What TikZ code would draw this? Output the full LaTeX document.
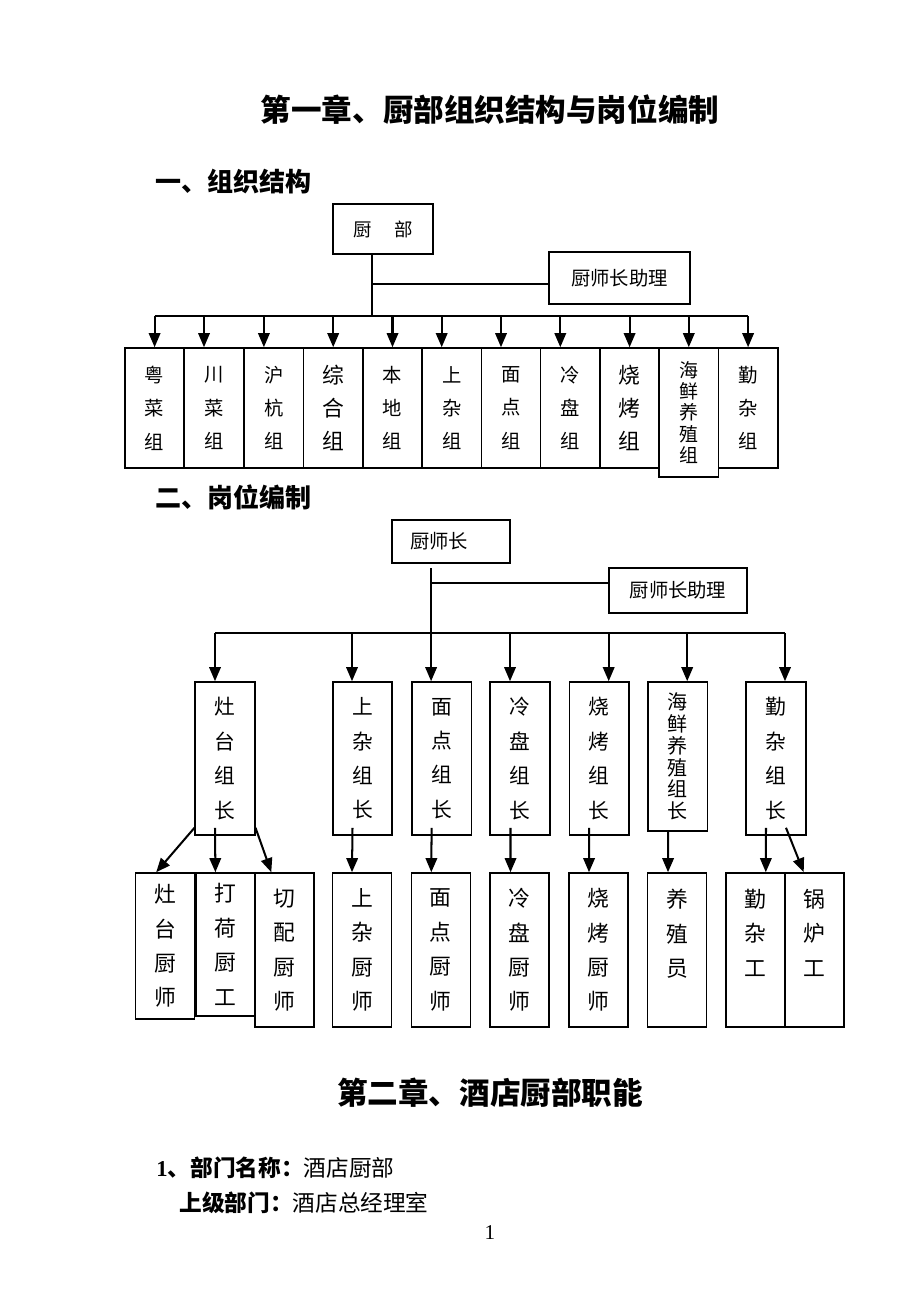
\documentclass[tikz,border=0pt]{standalone}
\usepackage{fontspec}
\usepackage{tikz}
\usetikzlibrary{arrows.meta}
\setmainfont{Noto Sans CJK SC}
\newfontfamily\latinfont{Liberation Serif}

\tikzset{
  box/.style={draw, line width=0.9pt, inner sep=0pt, align=center},
  grp/.style={box, minimum width=1.185cm, minimum height=2.4cm, font=\fontsize{11}{19}\selectfont},
  lead/.style={box, minimum width=1.19cm, minimum height=3.06cm, font=\fontsize{11.8}{19.6}\selectfont},
  crew/.style={box, minimum width=1.18cm, minimum height=3.08cm, font=\fontsize{12.4}{19.6}\selectfont},
  bar/.style={line width=1.15pt},
  link/.style={bar, -{Triangle[length=8pt,width=6.5pt]}},
}

\begin{document}
\begin{tikzpicture}[x=0.02cm,y=-0.02cm]
                \useasboundingbox (0,0) rectangle (920,1306);
                % headings
                \node[font=\fontsize{17.4}{20}\selectfont\bfseries] (title1) at (490,110) {第一章、厨部组织结构与岗位编制};
                \node[anchor=west, inner sep=0pt, font=\fontsize{14.8}{18}\selectfont\bfseries] (sec1) at (155,182) {一、组织结构};
                \node[anchor=west, inner sep=0pt, font=\fontsize{14.8}{18}\selectfont\bfseries] (sec2) at (155,497) {二、岗位编制};

                % organisation chart
                \node[box, minimum width=2cm, minimum height=1cm, font=\fontsize{10.5}{12}\selectfont] (dept) at (383,229) {厨\hspace{0.45cm}部};
                \node[box, minimum width=2.82cm, minimum height=1.04cm, font=\fontsize{11}{12}\selectfont] (assist1) at (619.5,278) {厨师长助理};
                \coordinate (trunk1) at (372,316);
                \coordinate (join1) at (372,284);
                \coordinate (bus1l) at (154.5,316);
                \coordinate (bus1r) at (747.5,316);
                \draw[bar] (dept.south -| trunk1) -- (trunk1);
                \draw[bar] (join1) -- (join1 -| assist1.west);
                \draw[bar] (bus1l) -- (bus1r);

                \node[grp] (g1) at (154.6,408) {粤\\菜\\组};
                \node[grp] (g2) at (214.0,408) {川\\菜\\组};
                \node[grp] (g3) at (273.9,408) {沪\\杭\\组};
                \node[grp, font=\fontsize{12.4}{19}\selectfont] (g4) at (333.2,408) {综\\合\\组};
                \node[grp] (g5) at (392.5,408) {本\\地\\组};
                \node[grp] (g6) at (451.7,408) {上\\杂\\组};
                \node[grp] (g7) at (511.0,408) {面\\点\\组};
                \node[grp] (g8) at (570.3,408) {冷\\盘\\组};
                \node[grp, font=\fontsize{12.4}{19}\selectfont] (g9) at (629.6,408) {烧\\烤\\组};
                \node[grp, minimum height=2.58cm, font=\fontsize{10.8}{12.2}\selectfont] (g10) at (688.8,412.5) {海\\鲜\\养\\殖\\组};
                \node[grp] (g11) at (748.1,408) {勤\\杂\\组};

                \draw[link] (g1.north |- bus1l) -- (g1.north);
                \draw[link] ([xshift=-0.2cm]g2.north |- bus1l) -- ([xshift=-0.2cm]g2.north);
                \draw[link] ([xshift=-0.2cm]g3.north |- bus1l) -- ([xshift=-0.2cm]g3.north);
                \draw[link] (g4.north |- bus1l) -- (g4.north);
                \draw[link] (g5.north |- bus1l) -- (g5.north);
                \draw[link] ([xshift=-0.2cm]g6.north |- bus1l) -- ([xshift=-0.2cm]g6.north);
                \draw[link] ([xshift=-0.2cm]g7.north |- bus1l) -- ([xshift=-0.2cm]g7.north);
                \draw[link] ([xshift=-0.2cm]g8.north |- bus1l) -- ([xshift=-0.2cm]g8.north);
                \draw[link] (g9.north |- bus1l) -- (g9.north);
                \draw[link] (g10.north |- bus1l) -- (g10.north);
                \draw[link] (g11.north |- bus1l) -- (g11.north);

                % staffing chart
                \node[box, minimum height=0.86cm, text width=1.64cm, inner xsep=0.36cm, align=left, font=\fontsize{11}{12}\selectfont] (chef) at (451,541.5) {厨师长};
                \node[box, minimum width=2.76cm, minimum height=0.9cm, font=\fontsize{11}{12}\selectfont] (assist2) at (678,590.5) {厨师长助理};
                \coordinate (top2) at (431,568);
                \coordinate (trunk2) at (431,633);
                \coordinate (join2) at (431,583);
                \coordinate (bus2l) at (214.8,633);
                \coordinate (bus2r) at (785,633);
                \draw[bar] (top2) -- (trunk2);
                \draw[bar] (join2) -- (join2 -| assist2.west);
                \draw[bar] (bus2l) -- (bus2r);

                \node[lead] (l1) at (225,758.5) {灶\\台\\组\\长};
                \node[lead] (l2) at (362.5,758.5) {上\\杂\\组\\长};
                \node[lead] (l3) at (441.6,758.5) {面\\点\\组\\长};
                \node[lead] (l4) at (520,758.5) {冷\\盘\\组\\长};
                \node[lead] (l5) at (599.2,758.5) {烧\\烤\\组\\长};
                \node[lead, minimum height=2.98cm, font=\fontsize{11.4}{12.4}\selectfont] (l6) at (677.7,756.5) {海\\鲜\\养\\殖\\组\\长};
                \node[lead] (l7) at (776,758.5) {勤\\杂\\组\\长};

                \draw[link] ([xshift=-0.2cm]l1.north |- bus2l) -- ([xshift=-0.2cm]l1.north);
                \draw[link] ([xshift=-0.21cm]l2.north |- bus2l) -- ([xshift=-0.21cm]l2.north);
                \draw[link] ([xshift=-0.21cm]l3.north |- bus2l) -- ([xshift=-0.21cm]l3.north);
                \draw[link] ([xshift=-0.2cm]l4.north |- bus2l) -- ([xshift=-0.2cm]l4.north);
                \draw[link] ([xshift=0.19cm]l5.north |- bus2l) -- ([xshift=0.19cm]l5.north);
                \draw[link] ([xshift=0.19cm]l6.north |- bus2l) -- ([xshift=0.19cm]l6.north);
                \draw[link] ([xshift=0.18cm]l7.north |- bus2l) -- ([xshift=0.18cm]l7.north);

                \node[crew, minimum height=2.92cm] (w1) at (165.2,946) {灶\\台\\厨\\师};
                \node[crew, minimum height=2.86cm] (w2) at (225.4,944.5) {打\\荷\\厨\\工};
                \node[crew] (w3) at (284.3,950) {切\\配\\厨\\师};
                \node[crew] (w4) at (362,950) {上\\杂\\厨\\师};
                \node[crew] (w5) at (440.8,950) {面\\点\\厨\\师};
                \node[crew] (w6) at (519.5,950) {冷\\盘\\厨\\师};
                \node[crew] (w7) at (598.5,950) {烧\\烤\\厨\\师};
                \node[crew] (w8) at (677,950) {养\\殖\\员\\~};
                \node[crew] (w9) at (755.3,950) {勤\\杂\\工\\~};
                \node[crew] (w10) at (814.7,950) {锅\\炉\\工\\~};

                \draw[link] ([yshift=0.16cm]l1.south west) -- ([xshift=-0.18cm]w1.north);
                \draw[link] ([xshift=-0.2cm,yshift=0.16cm]l1.south) -- ([xshift=-0.2cm]w2.north);
                \draw[link] ([yshift=0.16cm]l1.south east) -- ([xshift=-0.26cm]w3.north);
                \draw[link] ([xshift=-0.2cm,yshift=0.16cm]l2.south) -- ([xshift=-0.2cm]w4.north);
                \draw[link] ([xshift=-0.2cm,yshift=0.16cm]l3.south) -- ([xshift=-0.19cm]w5.north);
                \draw[link] ([xshift=-0.19cm,yshift=0.16cm]l4.south) -- ([xshift=-0.18cm]w6.north);
                \draw[link] ([xshift=-0.2cm,yshift=0.16cm]l5.south) -- ([xshift=-0.19cm]w7.north);
                \draw[link] ([xshift=-0.19cm]l6.south) -- ([xshift=-0.18cm]w8.north);
                \draw[link] ([xshift=-0.2cm,yshift=0.16cm]l7.south) -- ([xshift=0.21cm]w9.north);
                \draw[link] ([xshift=0.2cm,yshift=0.16cm]l7.south) -- ([xshift=-0.22cm]w10.north);

                % chapter two
                \node[font=\fontsize{17.4}{20}\selectfont\bfseries] (title2) at (490,1093) {第二章、酒店厨部职能};
                \node[anchor=west, inner sep=0pt, font=\fontsize{12.9}{15}\selectfont] (line1) at (156,1168) {{\latinfont\bfseries 1}{\bfseries 、部门名称：}酒店厨部};
                \node[anchor=west, inner sep=0pt, font=\fontsize{12.9}{15}\selectfont] (line2) at (179,1203) {{\bfseries 上级部门：}酒店总经理室};
                \node[font=\latinfont\fontsize{12}{14}\selectfont] (pageno) at (490,1233) {1};
\end{tikzpicture}
\end{document}
